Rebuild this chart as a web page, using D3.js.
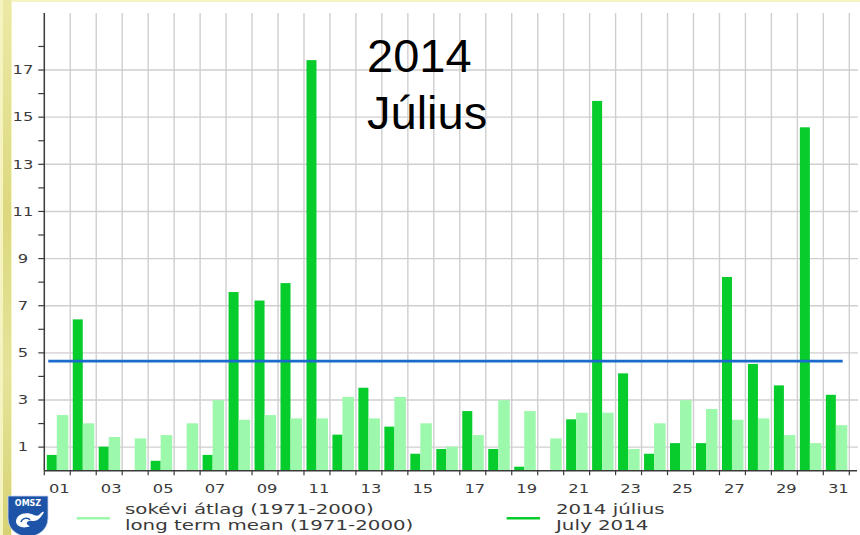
<!DOCTYPE html>
<html>
<head>
<meta charset="utf-8">
<script src="https://cdn.jsdelivr.net/npm/d3@7"></script>
<style>
  html, body { margin: 0; padding: 0; background: #ffffff; }
  svg { display: block; }
</style>
</head>
<body>
<div id="chart"></div>
<script>
// ---- data ----
const days = ["01","02","03","04","05","06","07","08","09","10","11","12","13","14","15","16",
              "17","18","19","20","21","22","23","24","25","26","27","28","29","30","31"];
const july2014 = [0.67, 6.42, 1.02, 0, 0.42, 0, 0.67, 7.58, 7.22, 7.96, 17.42, 1.53, 3.52, 1.87, 0.72, 0.92,
                  2.53, 0.92, 0.17, 0, 2.18, 15.69, 4.13, 0.72, 1.17, 1.17, 8.22, 4.53, 3.62, 14.57, 3.22];
const longTermMean = [2.36, 2.01, 1.43, 1.37, 1.51, 2.01, 2.99, 2.16, 2.36, 2.22, 2.22, 3.13, 2.22, 3.13, 2.01, 1.02,
                      1.51, 2.99, 2.53, 1.37, 2.46, 2.46, 0.92, 2.01, 2.99, 2.62, 2.16, 2.22, 1.51, 1.17, 1.93];
const yTickValues = [1, 3, 5, 7, 9, 11, 13, 15, 17];
const yMinorValues = [2, 4, 6, 8, 10, 12, 14, 16, 18];
const xTickLabels = days.filter((d, i) => i % 2 === 0);
const referenceLevel = 4.65;
const titleLines = ["2014", "Július"];
const legendLight = ["sokévi átlag (1971-2000)", "long term mean (1971-2000)"];
const legendDark = ["2014 július", "July 2014"];

// ---- styles ----
const W = 860, H = 535;
const darkGreen = "#06cc2c", lightGreen = "#9cf8aa", blue = "#1a6ccc";
const gridCol = "#cfcfcf", axisCol = "#3a3a3a", textCol = "#3a3a3a";
const stretch = 1.42;

const svg = d3.select("#chart").append("svg").attr("width", W).attr("height", H);

// frame decoration (pale yellow left strip + top line)
const defs = svg.append("defs");
const lg = defs.append("linearGradient").attr("id", "strip").attr("x1", 0).attr("y1", 0).attr("x2", 0).attr("y2", 1);
lg.append("stop").attr("offset", "0%").attr("stop-color", "#ece9a6");
lg.append("stop").attr("offset", "40%").attr("stop-color", "#dcd87f");
lg.append("stop").attr("offset", "70%").attr("stop-color", "#e6e39a");
lg.append("stop").attr("offset", "100%").attr("stop-color", "#d6d274");
svg.append("rect").attr("x", 0).attr("y", 0).attr("width", W).attr("height", 2).attr("fill", "#f6f3c2");
svg.append("rect").attr("x", 0).attr("y", 0).attr("width", 12).attr("height", H).attr("fill", "#f5f3c0");
svg.append("rect").attr("x", 3).attr("y", 0).attr("width", 8).attr("height", H).attr("fill", "url(#strip)");

// ---- scales ----
const x = d3.scaleBand().domain(days).range([44.3, 849.3]).paddingInner(0).paddingOuter(0);
const sub = d3.scaleOrdinal().domain(["obs", "mean"]).range([2.5, 12.5]);
const subW = { obs: 10, mean: 11.5 };
const y = d3.scaleLinear().domain([0, 19.42]).range([470.7, 13]);

// ---- grid ----
const grid = svg.append("g");
const bounds = days.map(d => x(d)).concat([x(days[days.length - 1]) + x.bandwidth()]);
grid.selectAll("line.v").data(bounds.slice(1)).join("line")
  .attr("x1", d => d).attr("x2", d => d)
  .attr("y1", y.range()[1]).attr("y2", y(0))
  .attr("stroke", gridCol).attr("stroke-width", 1.4);
grid.selectAll("line.h").data(yTickValues).join("line")
  .attr("x1", x.range()[0]).attr("x2", 858)
  .attr("y1", d => y(d)).attr("y2", d => y(d))
  .attr("stroke", gridCol).attr("stroke-width", 1.4);

// ---- bars ----
const bars = svg.append("g");
bars.selectAll("rect.obs").data(july2014).join("rect")
  .attr("x", (d, i) => x(days[i]) + sub("obs"))
  .attr("width", subW.obs)
  .attr("y", d => y(d))
  .attr("height", d => y(0) - y(d))
  .attr("fill", darkGreen);
bars.selectAll("rect.mean").data(longTermMean).join("rect")
  .attr("x", (d, i) => x(days[i]) + sub("mean"))
  .attr("width", subW.mean)
  .attr("y", d => y(d))
  .attr("height", d => y(0) - y(d))
  .attr("fill", lightGreen);

// ---- reference line ----
svg.append("line")
  .attr("x1", x.range()[0] + 4).attr("x2", x.range()[1] - 6.6)
  .attr("y1", y(referenceLevel)).attr("y2", y(referenceLevel))
  .attr("stroke", blue).attr("stroke-width", 2.6);

// ---- axes ----
const yAxis = svg.append("g");
yAxis.append("line").attr("x1", x.range()[0]).attr("x2", x.range()[0])
  .attr("y1", y.range()[1]).attr("y2", y(0)).attr("stroke", axisCol).attr("stroke-width", 1.5);
yAxis.selectAll("line.t").data(yTickValues.concat(yMinorValues)).join("line")
  .attr("x1", x.range()[0] - 6).attr("x2", x.range()[0])
  .attr("y1", d => y(d)).attr("y2", d => y(d))
  .attr("stroke", axisCol).attr("stroke-width", 1.2);
yAxis.selectAll("text").data(yTickValues).join("text")
  .attr("transform", d => `translate(23,${y(d) + 4.2}) scale(${stretch},1)`)
  .attr("text-anchor", "middle")
  .attr("font-family", "DejaVu Sans, Verdana, sans-serif")
  .attr("font-size", 11.5).attr("fill", textCol)
  .text(d => d);

const xAxis = svg.append("g");
xAxis.append("line").attr("x1", x.range()[0]).attr("x2", 857)
  .attr("y1", y(0)).attr("y2", y(0)).attr("stroke", axisCol).attr("stroke-width", 1.5);
xAxis.selectAll("line.t").data(bounds).join("line")
  .attr("x1", d => d).attr("x2", d => d)
  .attr("y1", y(0)).attr("y2", y(0) + 4.5)
  .attr("stroke", axisCol).attr("stroke-width", 1.2);
xAxis.selectAll("text").data(xTickLabels).join("text")
  .attr("transform", d => `translate(${x(d) + x.bandwidth() / 2 + 2},${493}) scale(${stretch},1)`)
  .attr("text-anchor", "middle")
  .attr("font-family", "DejaVu Sans, Verdana, sans-serif")
  .attr("font-size", 11.5).attr("fill", textCol)
  .text(d => d);

// ---- title ----
svg.append("g").selectAll("text").data(titleLines).join("text")
  .attr("x", 367).attr("y", (d, i) => 72 + i * 57)
  .attr("font-family", "Liberation Sans, Arial, sans-serif")
  .attr("font-size", 47).attr("fill", "#000")
  .text(d => d);

// ---- legend ----
function legendItem(lx1, lx2, color, tx, lines) {
  const g = svg.append("g");
  g.append("line").attr("x1", lx1).attr("x2", lx2).attr("y1", 518.3).attr("y2", 518.3)
    .attr("stroke", color).attr("stroke-width", 2.5);
  g.selectAll("text").data(lines).join("text")
    .attr("transform", (d, i) => `translate(${tx},${514 + i * 15.5}) scale(1.48,1)`)
    .attr("font-family", "DejaVu Sans, Verdana, sans-serif")
    .attr("font-size", 13.4).attr("fill", textCol)
    .text(d => d);
}
legendItem(76.7, 110, lightGreen, 125, legendLight);
legendItem(506.7, 540, darkGreen, 556, legendDark);

// ---- logo (OMSZ) ----
const logo = svg.append("g").attr("transform", "translate(8,496)");
logo.append("path")
  .attr("d", "M0,0 H40 V22 C40,34 30,40 20,41 C10,40 0,34 0,22 Z")
  .attr("fill", "#1d54a8").attr("stroke", "#c9d6ee").attr("stroke-width", 0.8);
logo.append("text").attr("x", 20).attr("y", 10).attr("text-anchor", "middle")
  .attr("font-family", "DejaVu Sans, sans-serif").attr("font-weight", "bold")
  .attr("font-size", 8).attr("fill", "#ffffff").text("OMSZ");
logo.append("path")
  .attr("d", "M8,26 C8,18 18,15 26,19 C32,22 33,14 36,16 C34,20 30,26 24,25 C18,24 17,29 22,30 C16,33 9,31 8,26 Z")
  .attr("fill", "#ffffff");
logo.append("path")
  .attr("d", "M13,26 C14,22 20,21 22,24")
  .attr("fill", "none").attr("stroke", "#1d54a8").attr("stroke-width", 1.5);
</script>
</body>
</html>
